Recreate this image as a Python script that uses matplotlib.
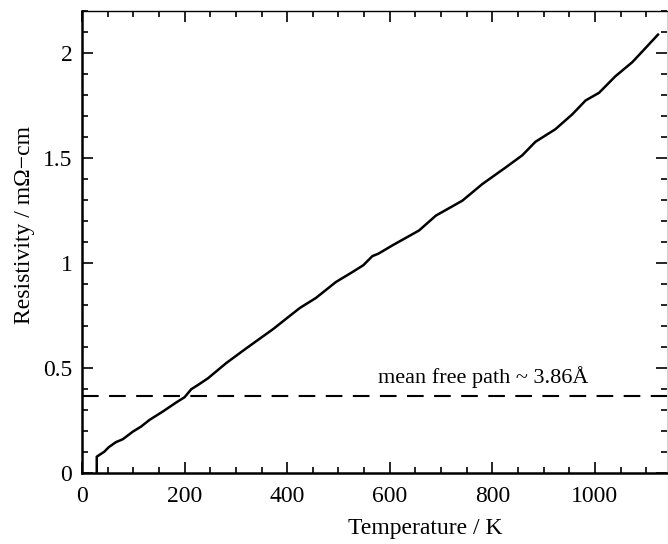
import numpy as np
import matplotlib
matplotlib.use("Agg")
import matplotlib.pyplot as plt
from matplotlib.ticker import MultipleLocator

# resistivity curve
temperature = [28.7, 28.7, 43.6, 52, 66, 79.5, 99, 115, 131.6, 157.6, 183.7, 200,
               213, 226, 245.6, 281, 320.5, 372.6, 402, 425, 456, 495, 527, 548.5,
               566, 578, 605, 657, 690, 741.6, 780.5, 826, 858.5, 884, 923, 956,
               982, 1008, 1040, 1073, 1099, 1123]
resistivity = [0.0, 0.079, 0.103, 0.124, 0.148, 0.162, 0.198, 0.222, 0.254, 0.294,
               0.337, 0.362, 0.40, 0.42, 0.452, 0.524, 0.595, 0.686, 0.743, 0.787,
               0.834, 0.91, 0.957, 0.99, 1.033, 1.045, 1.084, 1.155, 1.226, 1.297,
               1.376, 1.455, 1.513, 1.577, 1.637, 1.708, 1.774, 1.81, 1.889, 1.956,
               2.024, 2.087]
mfp_level = 0.366
mfp_label = "mean free path ~ 3.86Å"

plt.rcParams['font.family'] = ['Liberation Serif', 'DejaVu Serif']

fig = plt.figure(figsize=(6.68, 5.44), dpi=100)
ax = fig.add_axes([0.1228, 0.130, 0.876, 0.850])

ax.plot(temperature, resistivity, color='black', lw=1.8)
ax.axhline(mfp_level, color='black', lw=1.5, dashes=(8, 5))
ax.text(578, 0.43, mfp_label, fontsize=16)

ax.set_xlim(0, 1141)
ax.set_ylim(0, 2.2)
ax.xaxis.set_major_locator(MultipleLocator(200))
ax.xaxis.set_minor_locator(MultipleLocator(50))
ax.yaxis.set_major_locator(MultipleLocator(0.5))
ax.yaxis.set_minor_locator(MultipleLocator(0.1))
ax.set_xticks([0, 200, 400, 600, 800, 1000])
ax.set_xticklabels(['0', '200', '400', '600', '800', '1000'])
ax.set_yticks([0, 0.5, 1, 1.5, 2])
ax.set_yticklabels(['0', '0.5', '1', '1.5', '2'])

ax.tick_params(which='both', direction='in', top=True, right=True, labelsize=17,
               width=1.2)
ax.tick_params(which='major', length=8)
ax.tick_params(which='minor', length=4)
ax.tick_params(axis='x', pad=9)
ax.tick_params(axis='y', pad=7)

for side in ['left', 'bottom']:
    ax.spines[side].set_linewidth(1.8)
ax.spines['top'].set_linewidth(1.0)
ax.spines['right'].set_linewidth(0.6)
ax.spines['right'].set_color('#cccccc')

ax.set_xlabel('Temperature / K', fontsize=17)
ax.set_ylabel('Resistivity / mΩ−cm', fontsize=17)
# the original labels sit off-centre
ax.xaxis.set_label_coords(0.586, -0.097)
ax.yaxis.set_label_coords(-0.08, 0.537)

fig.savefig('out.png', dpi=100)
